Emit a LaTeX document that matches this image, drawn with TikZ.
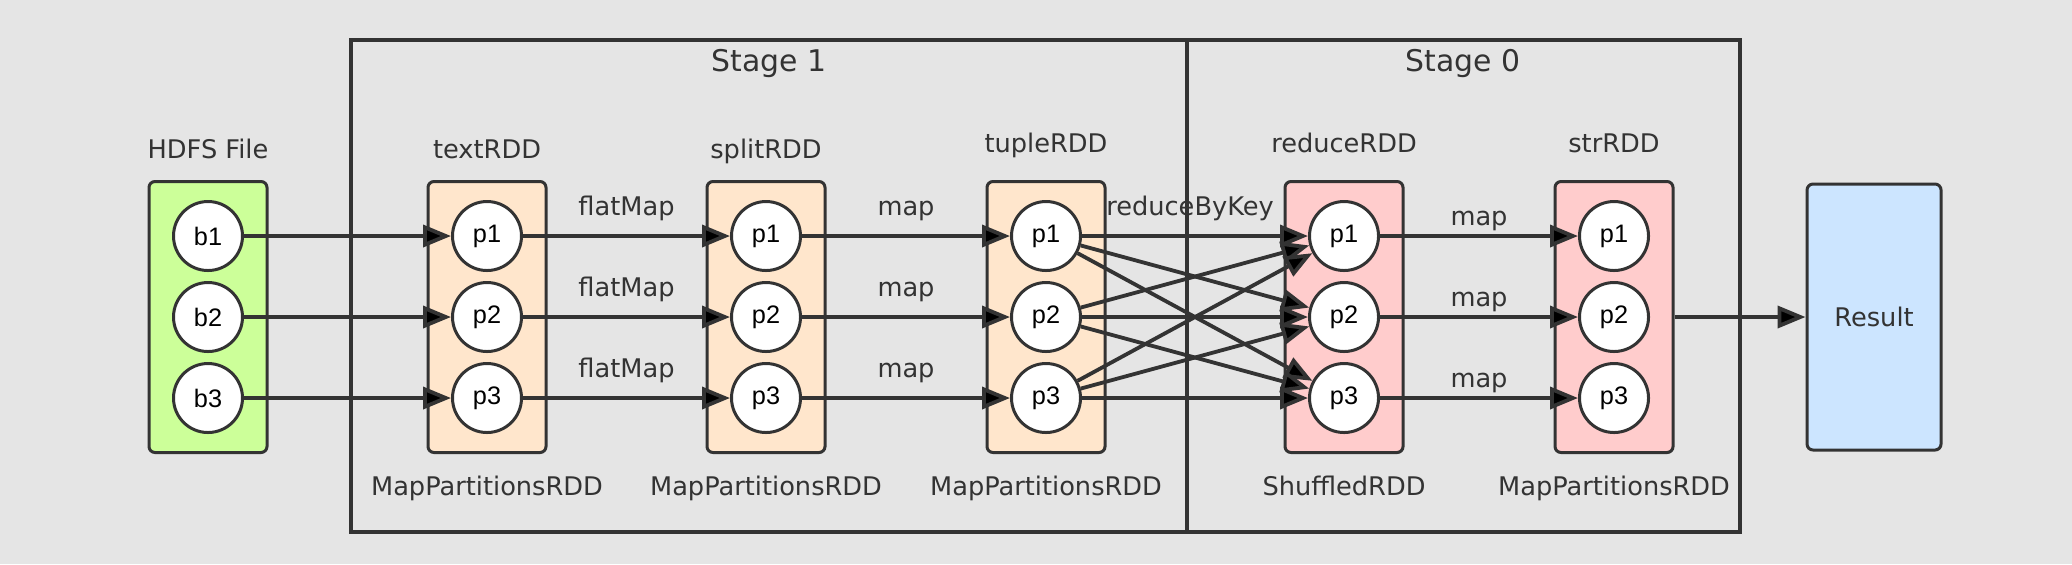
\documentclass[tikz,border=0pt]{standalone}
\usepackage{fontspec}
\setmainfont{DejaVu Sans}
\newfontfamily\partfont{Liberation Sans}
\usetikzlibrary{arrows.meta}
\definecolor{bg}{HTML}{E5E5E5}
\definecolor{ink}{HTML}{333333}
\definecolor{hdfsgreen}{HTML}{CCFF99}
\definecolor{peach}{HTML}{FFE6CC}
\definecolor{rose}{HTML}{FFCCCC}
\definecolor{sky}{HTML}{CCE5FF}
\begin{document}
\begin{tikzpicture}[x=0.1mm,y=-0.1mm,node distance=8.1mm,
  rdd/.style={draw=ink,line width=0.3mm,rounded corners=0.6mm,minimum width=11.8mm,minimum height=27.1mm},
  part/.style={draw=ink,fill=white,circle,line width=0.3mm,minimum size=6.9mm,inner sep=0pt,font=\partfont\fontsize{7.2}{8}\selectfont},
  txt/.style={text=ink,anchor=base,inner sep=0pt,font=\fontsize{7.3}{8}\selectfont},
  lbl/.style={txt,yshift=2.1mm},
  arr/.style={draw=ink,line width=0.38mm,-{Triangle[length=2.8mm,width=2.2mm]}}]
          \fill[bg] (0,0) rectangle (2072,564);
          \useasboundingbox (0,0) rectangle (2072,564);

          \draw[ink,line width=0.35mm] (351,40) rectangle (1187,532);
          \draw[ink,line width=0.35mm] (1187,40) rectangle (1740,532);
          \node[txt,font=\fontsize{8.5}{10}\selectfont] (stage1) at (769,71) {Stage 1};
          \node[txt,font=\fontsize{8.5}{10}\selectfont] (stage0) at (1463,71) {Stage 0};

          \node[rdd,fill=hdfsgreen] (hdfs) at (208,317) {};
          \node[rdd,fill=peach] (textrdd) at (487,317) {};
          \node[rdd,fill=peach] (splitrdd) at (766,317) {};
          \node[rdd,fill=peach] (tuplerdd) at (1046,317) {};
          \node[rdd,fill=rose] (reducerdd) at (1344,317) {};
          \node[rdd,fill=rose] (strrdd) at (1614,317) {};
          \node[rdd,fill=sky,minimum width=13.4mm,minimum height=26.6mm,font=\fontsize{7.3}{8}\selectfont,text=ink] (result) at (1874,317) {Result};

          \node[part] (b2) at (208,317) {b2};
          \node[part,above of=b2] (b1) {b1};
          \node[part,below of=b2] (b3) {b3};

          \node[part] (t2) at (487,317) {p2};
          \node[part,above of=t2] (t1) {p1};
          \node[part,below of=t2] (t3) {p3};

          \node[part] (s2) at (766,317) {p2};
          \node[part,above of=s2] (s1) {p1};
          \node[part,below of=s2] (s3) {p3};

          \node[part] (u2) at (1046,317) {p2};
          \node[part,above of=u2] (u1) {p1};
          \node[part,below of=u2] (u3) {p3};

          \node[part] (r2) at (1344,317) {p2};
          \node[part,above of=r2] (r1) {p1};
          \node[part,below of=r2] (r3) {p3};

          \node[part] (v2) at (1614,317) {p2};
          \node[part,above of=v2] (v1) {p1};
          \node[part,below of=v2] (v3) {p3};

          \node[txt] (hdfsname) at (208,158) {HDFS File};
          \node[txt] (textname) at (487,158) {textRDD};
          \node[txt] (splitname) at (766,158) {splitRDD};
          \node[txt] (tuplename) at (1046,152) {tupleRDD};
          \node[txt] (reducename) at (1344,152) {reduceRDD};
          \node[txt] (strname) at (1614,152) {strRDD};

          \node[txt] (textkind) at (487,495) {MapPartitionsRDD};
          \node[txt] (splitkind) at (766,495) {MapPartitionsRDD};
          \node[txt] (tuplekind) at (1046,495) {MapPartitionsRDD};
          \node[txt] (reducekind) at (1344,495) {ShuffledRDD};
          \node[txt] (strkind) at (1614,495) {MapPartitionsRDD};

          \path[arr]
          (b1) edge (t1)
          (b2) edge (t2)
          (b3) edge (t3)
          (t1) edge node[lbl] {flatMap} (s1)
          (t2) edge node[lbl] {flatMap} (s2)
          (t3) edge node[lbl] {flatMap} (s3)
          (s1) edge node[lbl] {map} (u1)
          (s2) edge node[lbl] {map} (u2)
          (s3) edge node[lbl] {map} (u3)
          (u1) edge node[lbl,xshift=-0.5mm] {reduceByKey} (r1)
          (u1) edge (r2)
          (u1) edge (r3)
          (u2) edge (r1)
          (u2) edge (r2)
          (u2) edge (r3)
          (u3) edge (r1)
          (u3) edge (r2)
          (u3) edge (r3)
          (r1) edge node[txt,yshift=1.05mm] {map} (v1)
          (r2) edge node[txt,yshift=1.05mm] {map} (v2)
          (r3) edge node[txt,yshift=1.05mm] {map} (v3)
          (strrdd) edge (result);
        \end{tikzpicture}
\end{document}
